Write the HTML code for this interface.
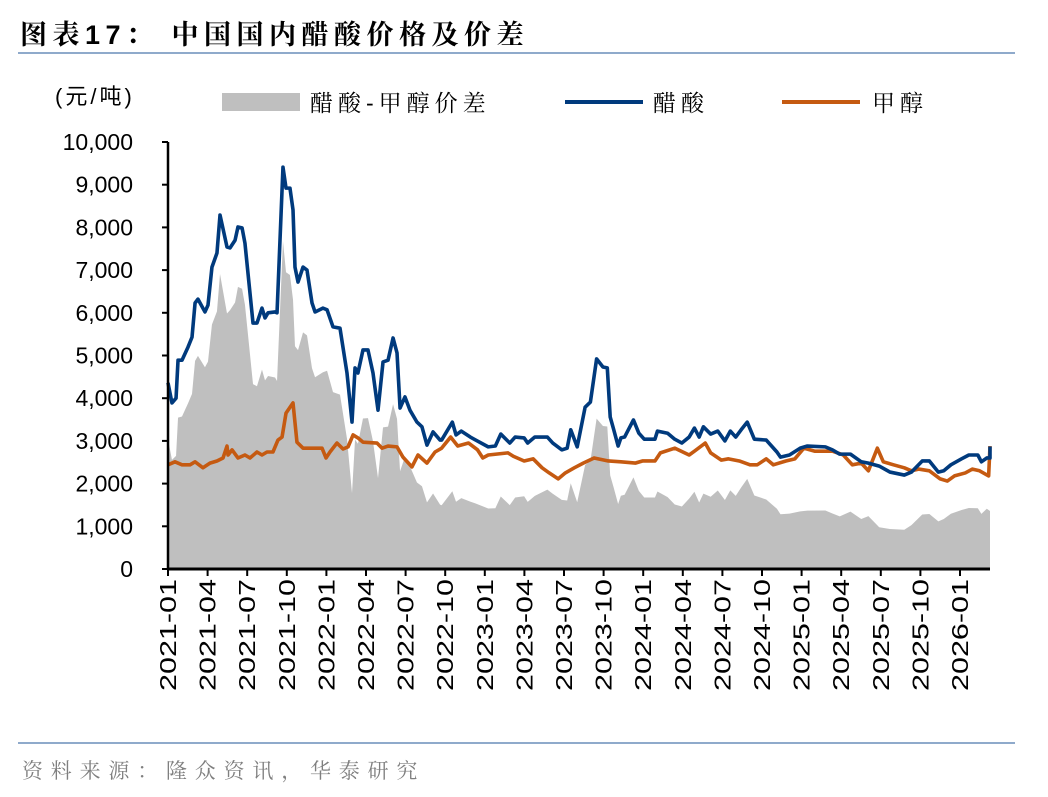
<!DOCTYPE html>
<html><head><meta charset="utf-8">
<style>
html,body{margin:0;padding:0;background:#fff;}
body{width:1048px;height:792px;overflow:hidden;font-family:"Liberation Sans","Noto Sans CJK SC",sans-serif;}
</style></head>
<body>
<svg id="chart" width="1048" height="792" viewBox="0 0 1048 792" xmlns="http://www.w3.org/2000/svg">
<text x="20" y="44" font-size="27" font-weight="bold" fill="#000" letter-spacing="5.5" font-family="'Liberation Sans','Noto Serif CJK SC',serif">图表17：  中国国内醋酸价格及价差</text>
<line x1="18" y1="53" x2="1015" y2="53" stroke="#8faacb" stroke-width="2"/>
<text x="55" y="104" font-size="22" fill="#000" letter-spacing="3">(元/吨)</text>
<g font-family="'Liberation Sans','Noto Serif CJK SC',serif">
 <g><rect x="222" y="93" width="78" height="18" fill="#bfbfbf"/><text x="310" y="111" font-size="23" letter-spacing="5">醋酸-甲醇价差</text></g>
 <g><line x1="565" y1="102" x2="643" y2="102" stroke="#003a7d" stroke-width="4"/><text x="653" y="111" font-size="23" letter-spacing="5">醋酸</text></g>
 <g><line x1="782" y1="102" x2="860" y2="102" stroke="#c55a11" stroke-width="4"/><text x="872" y="111" font-size="23" letter-spacing="5">甲醇</text></g>
</g>
<g id="plot"></g>
<line x1="18" y1="743" x2="1015" y2="743" stroke="#8faacb" stroke-width="2"/>
<text x="22" y="778" font-size="21" fill="#7f7f7f" letter-spacing="7.8" font-family="'Liberation Serif','Noto Serif CJK SC',serif">资料来源：隆众资讯，华泰研究</text>
</svg>
<script>
// months since 2021-01
const aceticT=[0,0.30,0.61,0.76,1.06,1.52,1.82,2.05,2.27,2.80,3.03,3.33,3.71,3.94,4.47,4.70,5.08,5.30,5.61,5.83,6.44,6.74,7.12,7.35,7.58,8.11,8.26,8.71,8.94,9.24,9.47,9.62,9.85,10.23,10.53,10.91,11.14,11.74,12.05,12.50,13.03,13.56,13.94,14.17,14.39,14.77,15.15,15.53,15.91,16.29,16.67,17.05,17.35,17.58,17.95,18.33,18.86,19.24,19.62,20.08,20.61,20.73,21.54,21.82,22.22,22.90,23.31,24.26,24.80,25.21,25.89,26.30,26.98,27.25,27.79,28.74,29.15,29.83,30.24,30.51,31.00,31.60,32.00,32.47,32.95,33.28,33.50,33.77,34.10,34.31,34.59,35.26,35.67,36.08,36.89,37.08,37.85,38.39,38.93,39.48,39.88,40.24,40.56,41.11,41.65,42.19,42.60,43.01,43.42,43.88,44.42,45.32,46.13,46.40,47.08,47.90,48.44,49.80,50.34,50.89,51.70,52.52,53.06,53.88,54.69,55.78,56.32,57.14,57.68,58.36,58.77,59.31,60.12,60.67,61.35,61.62,62.03,62.30,62.57];
const aceticV=[4360,3890,4000,4890,4890,5200,5430,6230,6320,6020,6180,7070,7400,8290,7540,7520,7700,8010,7990,7630,5760,5760,6110,5880,6000,6020,6000,9410,8920,8920,8410,7070,6720,7070,7000,6230,6020,6110,6070,5670,5640,4590,3440,4710,4590,5130,5130,4590,3720,4850,4890,5410,5060,3770,4030,3720,3440,3330,2900,3210,3020,3020,3440,3140,3230,3090,3020,2860,2880,3160,2950,3090,3070,2950,3090,3090,2950,2790,2830,3260,2860,3790,3910,4920,4730,4710,3560,3260,2880,3070,3090,3490,3180,3040,3040,3230,3180,3040,2950,3090,3300,3090,3330,3160,3230,3000,3230,3090,3260,3440,3040,3020,2740,2620,2670,2830,2880,2860,2790,2690,2690,2510,2480,2410,2270,2200,2270,2530,2530,2270,2300,2440,2580,2670,2670,2510,2600,2600,2870];
const spreadV=[3042,2556,2650,3545,3572,3882,4102,4875,4992,4724,4857,5725,6034,6908,5985,6062,6242,6606,6564,6188,4329,4280,4668,4417,4520,4486,4402,7682,6949,6884,6309,5218,5127,5542,5472,4702,4492,4609,4644,4142,4085,3051,1777,3031,2932,3526,3532,2992,2127,3316,3335,3860,3516,2290,2626,2402,2025,1937,1561,1768,1508,1492,1820,1574,1659,1578,1535,1418,1422,1697,1497,1675,1704,1573,1713,1859,1762,1618,1604,2007,1564,2435,2528,3521,3348,3338,2194,1899,1522,1715,1740,2145,1830,1674,1674,1815,1684,1512,1465,1648,1810,1556,1764,1691,1837,1615,1842,1713,1910,2112,1722,1627,1412,1281,1298,1350,1368,1370,1300,1232,1345,1171,1238,979,936,920,1028,1277,1288,1114,1171,1295,1381,1428,1423,1290,1412,1358,1315];
const methT=[0,0.53,1.06,1.67,2.05,2.65,3.18,3.71,4.17,4.47,4.55,4.85,5.30,5.83,6.21,6.74,7.12,7.50,7.95,8.33,8.64,8.94,9.47,9.77,10.23,11.67,11.97,12.27,12.80,13.26,13.64,14.02,14.39,14.77,15.83,16.21,16.67,17.35,17.80,18.48,18.94,19.62,20.23,20.73,21.41,21.95,22.77,23.45,23.85,24.26,25.75,26.16,26.98,27.66,28.34,28.88,29.56,30.10,30.78,31.46,32.28,33.36,34.31,35.40,35.94,36.89,37.30,38.39,39.48,39.88,40.70,41.11,41.92,42.46,43.28,44.09,44.64,45.32,45.86,46.81,47.49,48.17,48.98,49.66,50.34,51.16,51.84,52.52,53.06,53.74,54.19,54.96,55.78,56.32,56.87,57.68,58.50,59.04,59.58,60.40,60.94,61.48,62.17,62.57];
const methV=[2440,2510,2440,2440,2510,2370,2480,2530,2600,2880,2670,2790,2600,2670,2600,2740,2670,2740,2740,3020,3090,3650,3890,2970,2830,2830,2600,2740,2950,2810,2860,3140,3070,2970,2950,2830,2880,2860,2620,2390,2670,2480,2740,2830,3090,2880,2950,2790,2600,2670,2720,2640,2530,2580,2370,2250,2110,2250,2370,2480,2600,2530,2510,2480,2530,2530,2720,2830,2670,2760,2950,2720,2550,2580,2530,2440,2440,2580,2440,2530,2580,2830,2760,2760,2760,2670,2440,2480,2300,2830,2510,2440,2370,2300,2340,2300,2110,2060,2180,2250,2340,2300,2180,2880];
const yTicks=[0,1000,2000,3000,4000,5000,6000,7000,8000,9000,10000];
const yTickLabels=["0","1,000","2,000","3,000","4,000","5,000","6,000","7,000","8,000","9,000","10,000"];
const xTickMonths=[0,3,6,9,12,15,18,21,24,27,30,33,36,39,42,45,48,51,54,57,60];
const xTickLabels=["2021-01","2021-04","2021-07","2021-10","2022-01","2022-04","2022-07","2022-10","2023-01","2023-04","2023-07","2023-10","2024-01","2024-04","2024-07","2024-10","2025-01","2025-04","2025-07","2025-10","2026-01"];

const X0=168,XEND=990,Y0=569,YTOP=142;
const xs=m=>X0+m*13.2;
const ys=v=>Y0-(v/10000)*(Y0-YTOP);
const NS="http://www.w3.org/2000/svg";
const plot=document.getElementById('plot');
function mk(tag,attrs){const e=document.createElementNS(NS,tag);for(const k in attrs)e.setAttribute(k,attrs[k]);plot.appendChild(e);return e;}

let d=`M${xs(aceticT[0])},${Y0}`;
aceticT.forEach((t,i)=>{d+=` L${Math.min(xs(t),XEND)},${ys(spreadV[i])}`;});
d+=` L${Math.min(xs(aceticT[aceticT.length-1]),XEND)},${Y0} Z`;
const area=mk('path',{d:d,fill:'#bfbfbf'});



function line(T,V,color,name){
  const p=T.map((t,i)=>`${Math.min(xs(t),XEND)},${ys(V[i])}`).join(' ');
  const e=mk('polyline',{points:p,fill:'none',stroke:color,'stroke-width':3.6,'stroke-linejoin':'round'});
  
  
}
line(methT,methV,'#c55a11','methanol-line');
line(aceticT,aceticV,'#003a7d','acetic-acid-line');

const ya=mk('line',{x1:X0,y1:YTOP,x2:X0,y2:Y0+1,stroke:'#000','stroke-width':2.5});


const xa=mk('line',{x1:X0-1,y1:Y0,x2:XEND,y2:Y0,stroke:'#000','stroke-width':3});


yTicks.forEach((v,i)=>{
  const tk=mk('line',{x1:X0-6,y1:ys(v),x2:X0,y2:ys(v),stroke:'#000','stroke-width':2});
  
  
  const t=mk('text',{x:133,y:ys(v)+8,'font-size':23,'text-anchor':'end',fill:'#000'});
  t.textContent=yTickLabels[i];
  
  
});
xTickMonths.forEach((m,i)=>{
  const x=xs(m);
  const tk=mk('line',{x1:x,y1:Y0,x2:x,y2:Y0+7,stroke:'#000','stroke-width':2});
  
  
  const t=mk('text',{x:0,y:0,'font-size':23,'text-anchor':'end',fill:'#000',transform:`translate(${x+8},${Y0+10}) rotate(-90)`,textLength:112,lengthAdjust:'spacingAndGlyphs'});
  t.textContent=xTickLabels[i];
  
  
});
</script>
</body></html>
